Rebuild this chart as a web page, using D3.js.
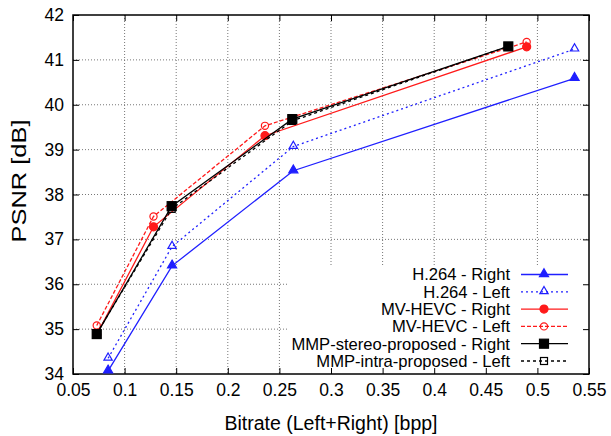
<!DOCTYPE html>
<html>
<head>
<meta charset="utf-8">
<script src="https://cdn.jsdelivr.net/npm/d3@7"></script>
<style>
  body { margin: 0; background: #fff; }
  text { font-family: "Liberation Sans", Arial, sans-serif; fill: #000; }
</style>
</head>
<body>
<div class="chart"></div>
<script>
var svgWidth = 611;
var svgHeight = 436;

var margin = { top: 15, right: 22, bottom: 62, left: 73 };
var width = svgWidth - margin.left - margin.right;
var height = svgHeight - margin.top - margin.bottom;

// data
var xTicks = [0.05, 0.1, 0.15, 0.2, 0.25, 0.3, 0.35, 0.4, 0.45, 0.5, 0.55];
var yTicks = [34, 35, 36, 37, 38, 39, 40, 41, 42];

var rateH264 = [0.084, 0.146, 0.2635, 0.536];
var h264Right = [34.07, 36.41, 38.53, 40.59];
var h264Left = [34.35, 36.84, 39.07, 41.24];

var rateHevc = [0.073, 0.128, 0.236, 0.4896];
var hevcRight = [34.88, 37.28, 39.31, 41.29];
var hevcLeft = [35.08, 37.51, 39.53, 41.40];

var rateMmp = [0.073, 0.1456, 0.2625, 0.4718];
var mmpRight = [34.89, 37.74, 39.68, 41.30];
var mmpLeft = [34.90, 37.68, 39.64, 41.30];

var series = [
  { name: "H.264 - Right", x: rateH264, y: h264Right, color: "#1f1fff", dash: null, marker: "tri", fill: true },
  { name: "H.264 - Left", x: rateH264, y: h264Left, color: "#1f1fff", dash: "2,3", marker: "tri", fill: false },
  { name: "MV-HEVC - Right", x: rateHevc, y: hevcRight, color: "#ff1a1a", dash: null, marker: "circle", fill: true },
  { name: "MV-HEVC - Left", x: rateHevc, y: hevcLeft, color: "#ff1a1a", dash: "4,2", marker: "circle", fill: false },
  { name: "MMP-stereo-proposed - Right", x: rateMmp, y: mmpRight, color: "#000", dash: null, marker: "square", fill: true },
  { name: "MMP-intra-proposed - Left", x: rateMmp, y: mmpLeft, color: "#000", dash: "3,3", marker: "square", fill: false }
];

var svg = d3.select(".chart")
  .append("svg")
  .attr("width", svgWidth)
  .attr("height", svgHeight);

var chartGroup = svg.append("g")
  .attr("transform", `translate(${margin.left}, ${margin.top})`);

var xScale = d3.scaleLinear().domain([0.05, 0.55]).range([0, width]);
var yScale = d3.scaleLinear().domain([34, 42]).range([height, 0]);

// legend box (white) covers part of the grid
var legendBox = { x: 215, y: 250, w: width - 215, h: height - 250 };

// grid
var grid = chartGroup.append("g");
grid.selectAll(".gx")
  .data(xTicks.slice(1, -1))
  .enter()
  .append("line")
  .attr("x1", d => xScale(d))
  .attr("x2", d => xScale(d))
  .attr("y1", 0)
  .attr("y2", height)
  .attr("stroke", "#777")
  .attr("stroke-width", 1)
  .attr("stroke-dasharray", "1,2");

grid.selectAll(".gy")
  .data(yTicks.slice(1, -1))
  .enter()
  .append("line")
  .attr("x1", 0)
  .attr("x2", width)
  .attr("y1", d => yScale(d))
  .attr("y2", d => yScale(d))
  .attr("stroke", "#777")
  .attr("stroke-width", 1)
  .attr("stroke-dasharray", "1,2");

chartGroup.append("rect")
  .attr("x", legendBox.x)
  .attr("y", legendBox.y)
  .attr("width", legendBox.w)
  .attr("height", legendBox.h)
  .attr("fill", "#fff");

// axes: ticks inside on all sides
var bottomAxis = d3.axisBottom(xScale).tickValues(xTicks).tickSize(-6).tickPadding(9.5).tickFormat(d3.format("~g"));
var topAxis = d3.axisTop(xScale).tickValues(xTicks).tickSize(-6).tickFormat("");
var leftAxis = d3.axisLeft(yScale).tickValues(yTicks).tickSize(-6).tickPadding(9);
var rightAxis = d3.axisRight(yScale).tickValues(yTicks).tickSize(-6).tickFormat("");

function styleAxis(g) {
  g.select(".domain").remove();
  g.selectAll(".tick line").attr("stroke", "#000");
  g.selectAll(".tick text").style("font-size", "17.5px");
}

chartGroup.append("g").attr("transform", `translate(0, ${height})`).call(bottomAxis).call(styleAxis);
chartGroup.append("g").call(topAxis).call(styleAxis);
chartGroup.append("g").call(leftAxis).call(styleAxis);
chartGroup.append("g").attr("transform", `translate(${width}, 0)`).call(rightAxis).call(styleAxis);

chartGroup.selectAll(".tick text").attr("font-family", "Liberation Sans, Arial, sans-serif");

// frame
chartGroup.append("rect")
  .attr("width", width)
  .attr("height", height)
  .attr("fill", "none")
  .attr("stroke", "#000")
  .attr("stroke-width", 1.5);

// markers
function drawMarker(g, s, cx, cy) {
  var fill = s.fill ? s.color : "none";
  if (s.marker === "tri") {
    g.append("path")
      .attr("d", d3.symbol().type(d3.symbolTriangle).size(s.fill ? 36 : 30)())
      .attr("transform", `translate(${cx}, ${cy - 0.5})`)
      .attr("fill", fill)
      .attr("stroke", s.color)
      .attr("stroke-width", 1.2);
  } else if (s.marker === "circle") {
    g.append("circle")
      .attr("cx", cx)
      .attr("cy", cy)
      .attr("r", s.fill ? 4 : 3.6)
      .attr("fill", fill)
      .attr("stroke", s.color)
      .attr("stroke-width", 1.2);
  } else {
    var h = s.fill ? 4.5 : 3.5;
    g.append("rect")
      .attr("x", cx - h)
      .attr("y", cy - h)
      .attr("width", 2 * h)
      .attr("height", 2 * h)
      .attr("fill", fill)
      .attr("stroke", s.color)
      .attr("stroke-width", 1.2);
  }
}

var line = d3.line().x(d => xScale(d[0])).y(d => yScale(d[1]));

series.forEach(function(s) {
  var pts = s.x.map((v, i) => [v, s.y[i]]);
  var g = chartGroup.append("g");
  g.append("path")
    .attr("d", line(pts))
    .attr("fill", "none")
    .attr("stroke", s.color)
    .attr("stroke-width", 1.3)
    .attr("stroke-dasharray", s.dash);
  pts.forEach(p => drawMarker(g, s, xScale(p[0]), yScale(p[1])));
});

// legend
var legend = chartGroup.append("g");
var rowStep = 17.3;
var row0 = 259.5;
series.forEach(function(s, i) {
  var ry = row0 + i * rowStep;
  legend.append("text")
    .attr("x", 437)
    .attr("y", ry)
    .attr("dy", "0.36em")
    .attr("text-anchor", "end")
    .style("font-size", "16.6px")
    .text(s.name);
  legend.append("line")
    .attr("x1", 448)
    .attr("x2", 495)
    .attr("y1", ry)
    .attr("y2", ry)
    .attr("stroke", s.color)
    .attr("stroke-width", 1.3)
    .attr("stroke-dasharray", s.dash);
  drawMarker(legend, s, 471, ry);
});

// axis titles
svg.append("text")
  .attr("x", margin.left + width / 2)
  .attr("y", 430)
  .attr("text-anchor", "middle")
  .style("font-size", "19.5px")
  .text("Bitrate (Left+Right) [bpp]");

svg.append("text")
  .attr("transform", "rotate(-90)")
  .attr("x", -181)
  .attr("y", 26)
  .attr("text-anchor", "middle")
  .attr("textLength", 123)
  .attr("lengthAdjust", "spacingAndGlyphs")
  .style("font-size", "20px")
  .text("PSNR [dB]");
</script>
</body>
</html>
